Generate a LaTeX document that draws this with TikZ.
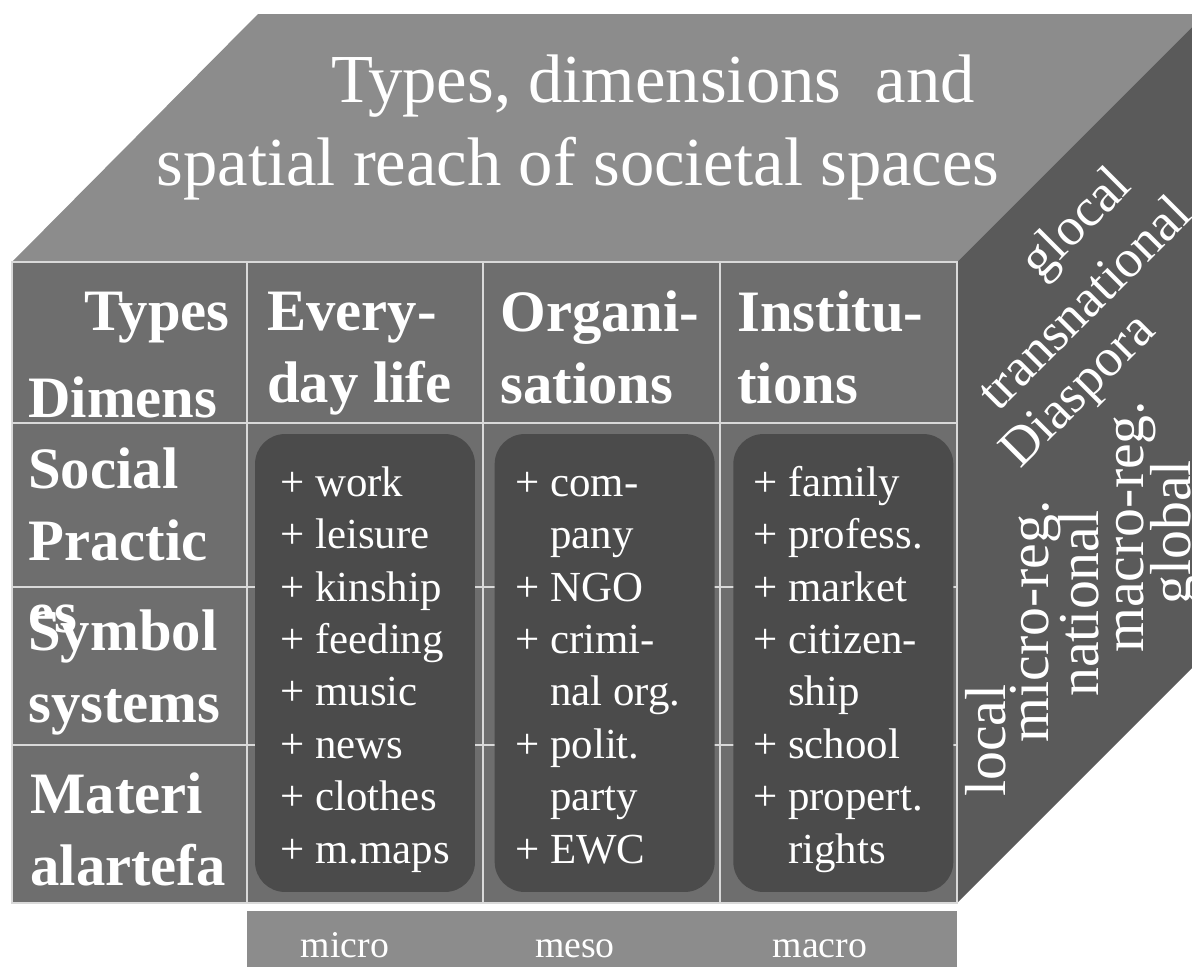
\documentclass[tikz,border=0pt]{standalone}
\usepackage{fontspec}
\setmainfont{Liberation Serif}
\usepackage{tikz}
\usetikzlibrary{positioning}

\definecolor{topgray}{HTML}{8C8C8C}
\definecolor{frontgray}{HTML}{6E6E6E}
\definecolor{sidegray}{HTML}{5A5A5A}
\definecolor{boxgray}{HTML}{4B4B4B}
\definecolor{linegray}{HTML}{D9D9D9}

\begin{document}
\begin{tikzpicture}
      [x=0.02cm, y=-0.02cm,
       grid/.style={draw=linegray, line width=1.1pt},
       itembox/.style={fill=boxgray, rounded corners=0.6cm, minimum width=4.4cm,
                       minimum height=9.16cm, inner sep=0pt},
       title/.style={text=white, font=\fontsize{39.1}{47}\selectfont, anchor=base, inner sep=0pt},
       head/.style={text=white, font=\fontsize{33.4}{40.8}\selectfont\bfseries, align=left,
                    anchor=base west, inner sep=0pt},
       item/.style={text=white, font=\fontsize{24.4}{29.8}\selectfont, align=left,
                    anchor=base west, inner sep=0pt},
       scalelabel/.style={text=white, font=\fontsize{21.5}{26}\selectfont, anchor=base, inner sep=0pt},
       reach/.style={text=white, font=\fontsize{32.9}{40}\selectfont, inner sep=0pt},
       slant/.style={reach, font=\fontsize{30.5}{36}\selectfont, rotate=45}]
    \useasboundingbox (0,0) rectangle (1192,967);

    % faces of the block
    \fill[topgray] (12,262) -- (258,14) -- (1192,14) -- (1192,27) -- (957,262) -- cycle;
    \fill[sidegray] (957,262) -- (1192,27) -- (1192,668) -- (957,903) -- cycle;
    \filldraw[fill=frontgray, grid] (12,262) rectangle (957,903);
    \draw[grid] (247,262) -- (247,903) (483,262) -- (483,903) (720,262) -- (720,903);
    \draw[grid] (12,423) -- (957,423) (12,587) -- (957,587) (12,745) -- (957,745);

    \node[title] (title1) at (653,102) {Types, dimensions\ \ and};
    \node[title] (title2) at (578,185) {spatial reach of societal spaces};

    % multi-line nodes sit on the baseline of their last line
    \node[head, anchor=base east] (types) at (230,330) {Types};
    \node[head] (dimens) at (28,417) {Dimens};
    \node[head] (everyhead) at (267,402) {Every-\\day life};
    \node[head] (orghead) at (500,403) {Organi-\\sations};
    \node[head] (insthead) at (737,403) {Institu-\\tions};
    \node[head] (social) at (28,632) {Social\\Practic\\es};
    \node[head] (symbol) at (28,722) {Symbol\\systems};
    \node[head] (material) at (30,885) {Materi\\alartefa};

    \node[itembox] (everyday) at (365,663) {};
    \node[itembox] (orgs) [right=0.38cm of everyday] {};
    \node[itembox] (insts) [right=0.36cm of orgs] {};

    \node[item] (everyitems) at (280,863)
      {+ work\\+ leisure\\+ kinship\\+ feeding\\+ music\\+ news\\+ clothes\\+ m.maps};
    \node[item] (orgitems) at (515,863)
      {+ com-\\\hphantom{+} pany\\+ NGO\\+ crimi-\\\hphantom{+} nal org.\\+ polit.\\\hphantom{+} party\\+ EWC};
    \node[item] (institems) at (753,863)
      {+ family\\+ profess.\\+ market\\+ citizen-\\\hphantom{+} ship\\+ school\\+ propert.\\\hphantom{+} rights};

    \fill[topgray] (247,911) rectangle (957,967);
    \node[scalelabel] (micro) at (345,957) {micro};
    \node[scalelabel] (meso) at (575,957) {meso};
    \node[scalelabel] (macro) at (820,957) {macro};

    \node[reach, rotate=90, anchor=base west] (local) at (1005,797) {local};
    \node[reach, rotate=90, anchor=base west] (microreg) at (1048,743) {micro-reg.};
    \node[reach, rotate=90, anchor=base west] (national) at (1098,697) {national};
    \node[reach, rotate=90, anchor=base west] (macroreg) at (1143,653) {macro-reg.};
    \node[reach, rotate=90, anchor=base west] (global) at (1190,605) {global};

    \node[slant] (glocal) at (1078,225) {glocal};
    \node[slant] (transnat) at (1083,302) {transnational};
    \node[slant] (diaspora) at (1080,393) {Diaspora};
\end{tikzpicture}
\end{document}
